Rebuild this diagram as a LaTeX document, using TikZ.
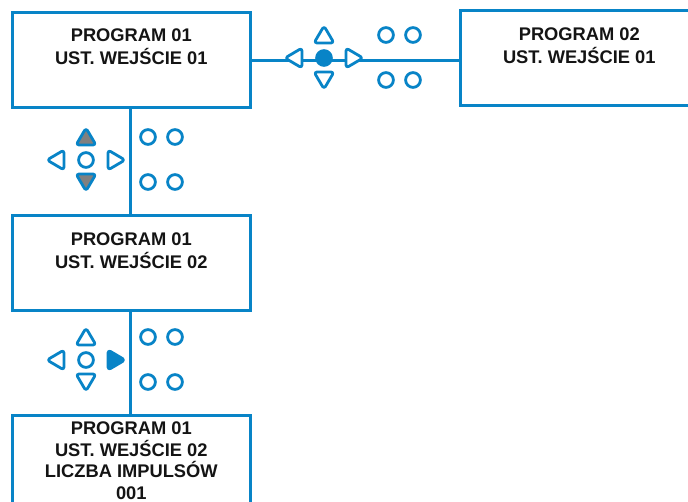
\documentclass[tikz,border=0pt]{standalone}
\usepackage{fontspec}
\setmainfont{Liberation Sans}
\definecolor{pblue}{RGB}{8,132,199}
\definecolor{pgray}{RGB}{128,128,128}
\definecolor{ptext}{RGB}{20,20,20}
\tikzset{
  box/.style={draw=pblue, line width=2.6pt, minimum width=238pt, minimum height=95pt, inner sep=0pt, anchor=north west},
  boxtext/.style={anchor=north, inner sep=0pt, align=center, text=ptext, font=\fontsize{18.3}{22.5}\selectfont\bfseries},
  link/.style={draw=pblue, line width=2.6pt},
  btn/.style={draw=pblue, line width=2.8pt, rounded corners=3pt, line join=round},
  pics/tup/.style={code={\path[btn,#1] (0,-9) -- (10,8) -- (-10,8) -- cycle;}},
  pics/tup/.default={fill=white},
  pics/tdown/.style={code={\path[btn,#1] (0,9) -- (-10,-8) -- (10,-8) -- cycle;}},
  pics/tdown/.default={fill=white},
  pics/tleft/.style={code={\path[btn,#1] (-9,0) -- (8,-10) -- (8,10) -- cycle;}},
  pics/tleft/.default={fill=white},
  pics/tright/.style={code={\path[btn,#1] (9,0) -- (-8,-10) -- (-8,10) -- cycle;}},
  pics/tright/.default={fill=white},
  pics/ring/.style={code={\path[draw=pblue, line width=2.8pt, #1] (0,0) circle[radius=7.4];}},
  pics/ring/.default={fill=white},
  pics/keypad/.style={code={
    \pic at (62,-23) {ring};
    \pic at (89,-23) {ring};
    \pic at (62,22) {ring};
    \pic at (89,22) {ring};
  }},
}
\begin{document}
\begin{tikzpicture}[x=1pt,y=-1pt]
\useasboundingbox (0,0) rectangle (688,502);
\clip (0,0) rectangle (688,502);

% boxes
\node[box] (b1) at (11,11) {};
\node[box] (b2) at (459,9) {};
\node[box] (b3) at (11,214) {};
\node[box] (b4) at (11,414) {};

% texts
\node[boxtext] (t1) at ([yshift=-18pt]b1.north) {PROGRAM 01\\UST. WEJŚCIE 01};
\node[boxtext] (t2) at ([yshift=-19pt]b2.north) {PROGRAM 02\\UST. WEJŚCIE 01};
\node[boxtext] (t3) at ([yshift=-19pt]b3.north) {PROGRAM 01\\UST. WEJŚCIE 02};
\node[boxtext, font=\fontsize{18.3}{21.6}\selectfont\bfseries] (t4) at ([yshift=-7.5pt]b4.north) {PROGRAM 01\\UST. WEJŚCIE 02\\LICZBA IMPULSÓW\\001};

% connectors
\draw[link] ([yshift=-0.5pt]b1.east) -- ([yshift=-0.5pt]b1.east -| b2.west);
\draw[link] ([xshift=-1pt]b1.south) -- ([xshift=-1pt]b3.north);
\draw[link] ([xshift=-1pt]b3.south) -- ([xshift=-1pt]b4.north);

% keypad 1 (on horizontal link)
\begin{scope}[shift={(324,58)}]
  \pic at (0,-23) {tup};
  \pic at (0,22) {tdown};
  \pic at (-30,0) {tleft};
  \pic at (30,0) {tright};
  \pic at (0,0) {ring={fill=pblue}};
  \pic at (0,0) {keypad};
\end{scope}

% keypad 2
\begin{scope}[shift={(86,160)}]
  \pic at (0,-23) {tup={fill=pgray}};
  \pic at (0,22) {tdown={fill=pgray}};
  \pic at (-30,0) {tleft};
  \pic at (30,0) {tright};
  \pic at (0,0) {ring};
  \pic at (0,0) {keypad};
\end{scope}

% keypad 3
\begin{scope}[shift={(86,360)}]
  \pic at (0,-23) {tup};
  \pic at (0,22) {tdown};
  \pic at (-30,0) {tleft};
  \pic at (30,0) {tright={fill=pblue}};
  \pic at (0,0) {ring};
  \pic at (0,0) {keypad};
\end{scope}
\end{tikzpicture}
\end{document}
